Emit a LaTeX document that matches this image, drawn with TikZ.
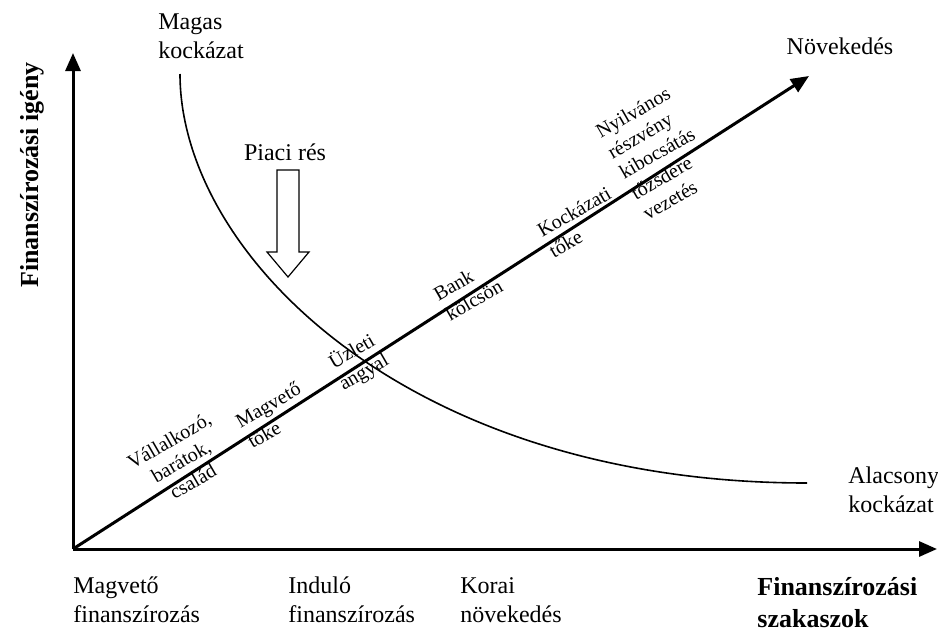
\documentclass[tikz,border=0pt]{standalone}
\usepackage{fontspec}
\setmainfont{Liberation Serif}
\usetikzlibrary{arrows.meta, positioning}

\begin{document}
\begin{tikzpicture}[x=0.5pt, y=-0.5pt, >={Triangle[length=9pt, width=7.5pt]}]
        % Style definitions
        \tikzstyle{axis} = [->, line width=1.5pt]
        \tikzstyle{plain} = [inner sep=0pt, align=left, font=\fontsize{12}{14.2}\selectfont]
        \tikzstyle{stage} = [inner sep=0pt, rotate=30, font=\fontsize{10}{11.8}\selectfont]
        \tikzstyle{heading} = [inner sep=0pt, align=left, font=\fontsize{13}{16}\selectfont\bfseries]

        \useasboundingbox (0,0) rectangle (938,633);

        % Axes and growth line
        \coordinate (O) at (73,549);
        \coordinate (ytip) at (73,53);
        \coordinate (xtip) at (937,549);
        \coordinate (gtip) at (809,76);
        \draw [axis] (O) -- (ytip);
        \draw [axis] (O) -- (xtip);
        \draw [axis] (O) -- (gtip);

        % Risk curve
        \coordinate (hi) at (180,74);
        \coordinate (lo) at (807,483);
        \draw [line width=0.8pt] (hi) .. controls (180,254) and (407,483) .. (lo);

        % Axis labels (base = last line)
        \node [plain, anchor=base west] (seedfin) at (73,622) {Magvető\\finanszírozás};
        \node [plain, anchor=base west] (startfin) at (288,622) {Induló\\finanszírozás};
        \node [plain, anchor=base west] (earlygr) at (460,622) {Korai\\növekedés};
        \node [heading, anchor=base west] (stages) at (757,627) {Finanszírozási\\szakaszok};
        \node [heading, rotate=90] (need) at (32,175) {Finanszírozási igény};

        % Risk and growth labels
        \node [plain, anchor=base west] (highrisk) at (158,58) {Magas\\kockázat};
        \node [plain, anchor=base west] (lowrisk) at (848,512) {Alacsony\\kockázat};
        \node [plain, anchor=base] (growth) at (840,54) {Növekedés};
        \node [plain, anchor=base] (gap) at (285,160) {Piaci rés};

        % Hollow arrow under the gap label
        \draw [line width=0.6pt] (277,170) -- (299,170) -- (299,252) -- (309,252)
              -- (288,277) -- (267,252) -- (277,252) -- cycle;

        % Financing sources along the growth line
        \node [stage, align=center] (founders) at (181,461) {Vállalkozó,\\barátok,\\család};
        \node [stage, align=left] (seedcap) at (274,415) {Magvető\\tőke};
        \node [stage, align=center] (angel) at (358,362) {Üzleti\\angyal};
        \node [stage, align=left] (loan) at (468,290) {Bank\\kölcsön};
        \node [stage, align=left] (venture) at (580,222) {Kockázati\\tőke};
        \node [stage, align=left] (ipo) at (657,153) {Nyilvános\\részvény\\kibocsátás\\tőzsdére\\vezetés};
\end{tikzpicture}
\end{document}
